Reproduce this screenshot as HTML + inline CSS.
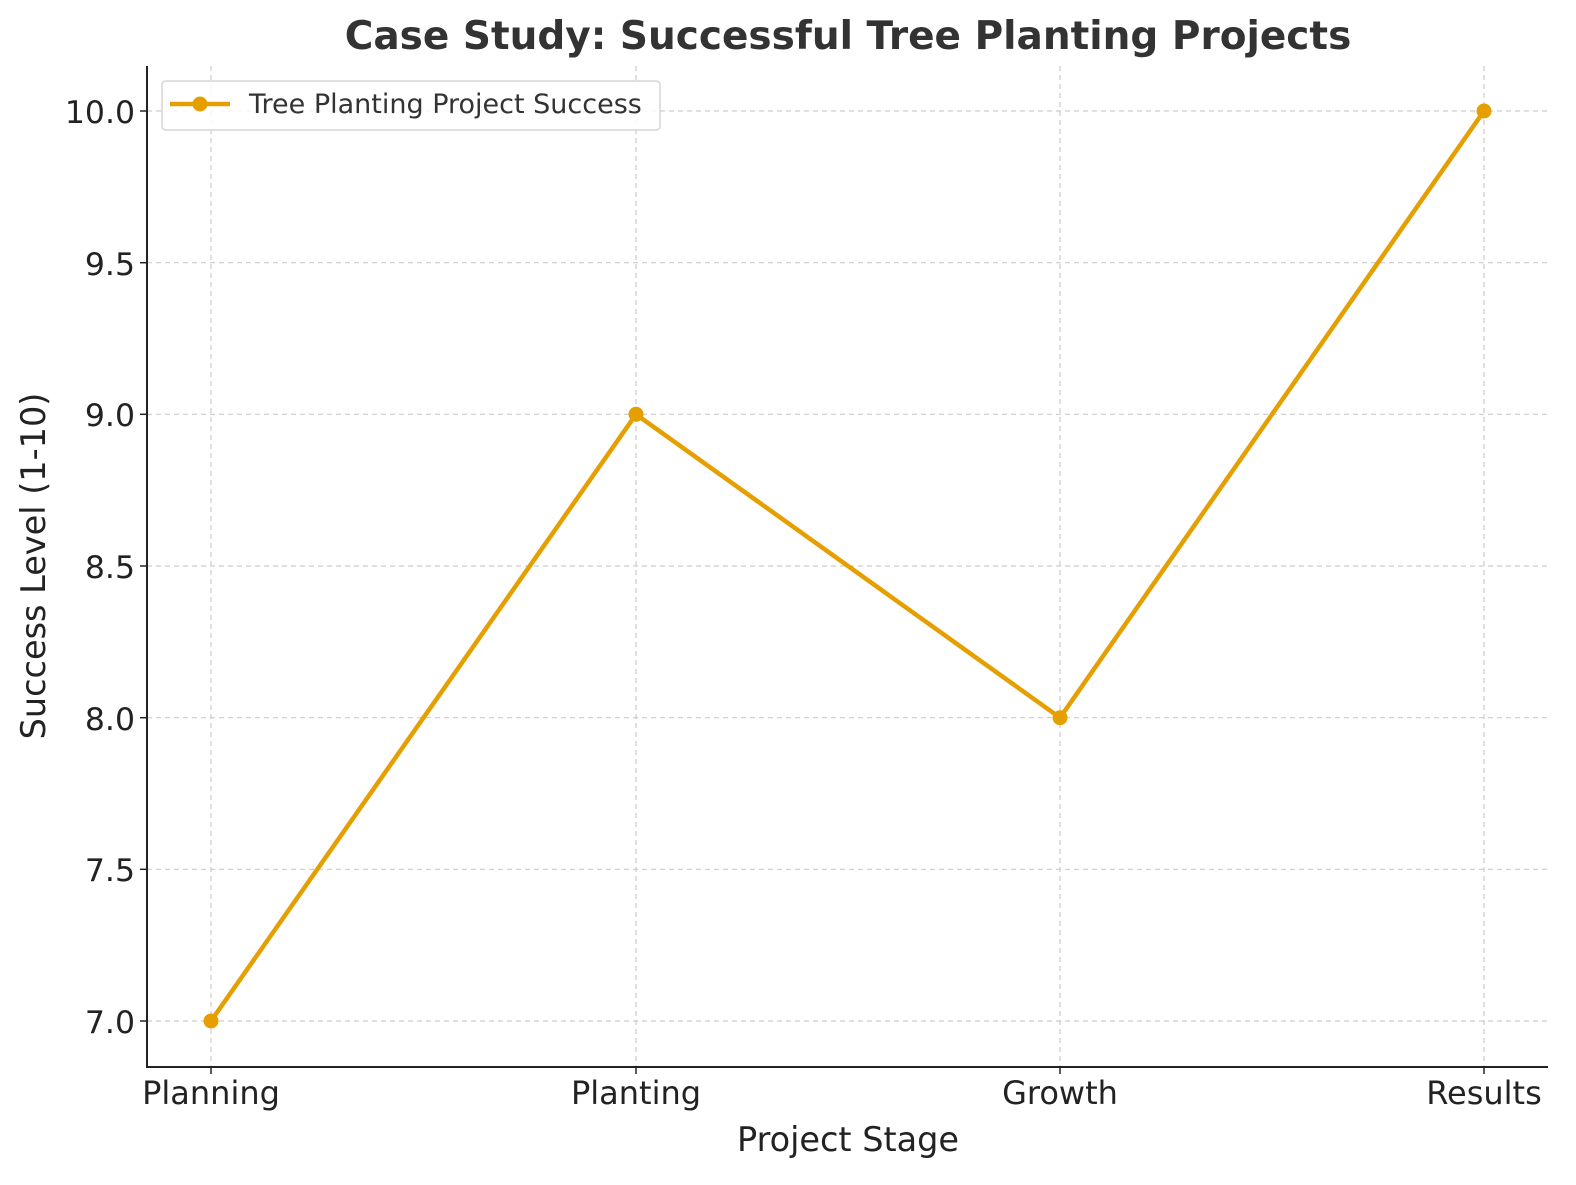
<!DOCTYPE html><html><head><style>body{margin:0;background:#fff}</style></head><body>
<svg width="1576" height="1180" xmlns="http://www.w3.org/2000/svg" font-family="DejaVu Sans, Liberation Sans, sans-serif">
<rect width="1576" height="1180" fill="#fff"/>
<g stroke="#ccc" stroke-width="1.2" stroke-dasharray="5,4">
<line x1="211" y1="66" x2="211" y2="1067"/><line x1="636" y1="66" x2="636" y2="1067"/><line x1="1060" y1="66" x2="1060" y2="1067"/><line x1="1484" y1="66" x2="1484" y2="1067"/>
<line x1="147" y1="1021" x2="1548" y2="1021"/><line x1="147" y1="869.3" x2="1548" y2="869.3"/><line x1="147" y1="717.7" x2="1548" y2="717.7"/><line x1="147" y1="566" x2="1548" y2="566"/><line x1="147" y1="414.3" x2="1548" y2="414.3"/><line x1="147" y1="262.7" x2="1548" y2="262.7"/><line x1="147" y1="111" x2="1548" y2="111"/>
</g>
<g stroke="#222" stroke-width="2"><line x1="147" y1="66" x2="147" y2="1068"/><line x1="146" y1="1067" x2="1548" y2="1067"/>
<g stroke-width="1.5"><line x1="140" y1="1021" x2="147" y2="1021"/><line x1="140" y1="869.3" x2="147" y2="869.3"/><line x1="140" y1="717.7" x2="147" y2="717.7"/><line x1="140" y1="566" x2="147" y2="566"/><line x1="140" y1="414.3" x2="147" y2="414.3"/><line x1="140" y1="262.7" x2="147" y2="262.7"/><line x1="140" y1="111" x2="147" y2="111"/>
<line x1="211" y1="1067" x2="211" y2="1074"/><line x1="636" y1="1067" x2="636" y2="1074"/><line x1="1060" y1="1067" x2="1060" y2="1074"/><line x1="1484" y1="1067" x2="1484" y2="1074"/></g></g>
<g font-size="31.5" fill="#222" text-anchor="end">
<text x="135" y="1033">7.0</text><text x="135" y="881">7.5</text><text x="135" y="730">8.0</text><text x="135" y="578">8.5</text><text x="135" y="426">9.0</text><text x="135" y="275">9.5</text><text x="135" y="123">10.0</text></g>
<g font-size="32" fill="#222" text-anchor="middle">
<text x="211" y="1104">Planning</text><text x="636" y="1104">Planting</text><text x="1060" y="1104">Growth</text><text x="1484" y="1104">Results</text>
<text x="848" y="1151" font-size="33.5">Project Stage</text>
<text transform="translate(45,566) rotate(-90)" font-size="33.5">Success Level (1-10)</text>
<text x="848" y="49" font-size="39" font-weight="bold" fill="#333">Case Study: Successful Tree Planting Projects</text></g>
<polyline points="211,1021 636,414.3 1060,717.7 1484,111" fill="none" stroke="#E69F00" stroke-width="4.5" stroke-linejoin="round"/>
<g fill="#E69F00"><circle cx="211" cy="1021" r="7.5"/><circle cx="636" cy="414.3" r="7.5"/><circle cx="1060" cy="717.7" r="7.5"/><circle cx="1484" cy="111" r="7.5"/></g>
<rect x="162" y="81" width="498" height="49" rx="4" fill="#fff" fill-opacity="0.85" stroke="#d5d5d5" stroke-width="1.5"/>
<line x1="170" y1="104" x2="230" y2="104" stroke="#E69F00" stroke-width="4.5"/><circle cx="200" cy="104" r="7.5" fill="#E69F00"/>
<text x="249" y="113" font-size="27" fill="#333">Tree Planting Project Success</text>
</svg></body></html>
